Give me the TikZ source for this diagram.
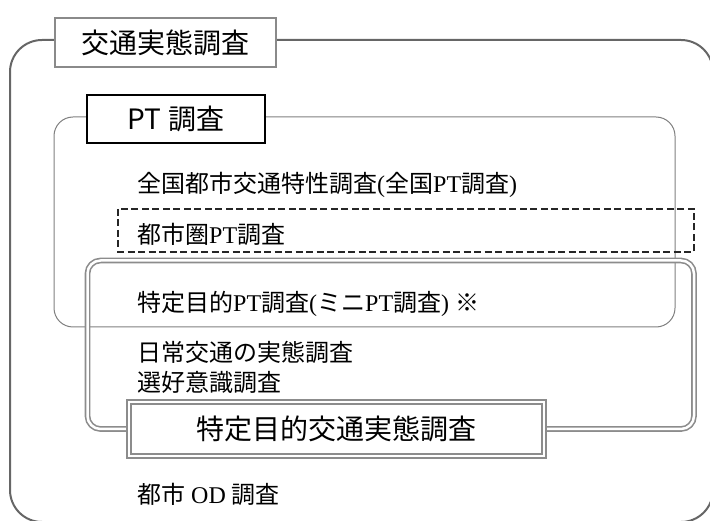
\documentclass[tikz,border=0pt]{standalone}
\usepackage{fontspec}
\setmainfont{Liberation Serif}
\newfontfamily\jpfont{Noto Sans CJK JP}
\newcommand{\jp}[1]{{\jpfont #1}}
\definecolor{framegray}{HTML}{666666}
\definecolor{boxgray}{HTML}{8A8A8A}
\definecolor{linegray}{HTML}{7F7F7F}
\definecolor{doublegray}{HTML}{8C8C8C}

\begin{document}
\begin{tikzpicture}[x=1pt,y=-1pt,
  titlefont/.style={font=\jpfont\fontsize{28}{30}\selectfont},
  titlebox/.style={titlefont,draw=boxgray,line width=2.5pt,fill=white,inner sep=0pt},
  ptbox/.style={titlefont,draw=black,line width=1.2pt,fill=white,inner sep=0pt},
  purposebox/.style={titlefont,draw=doublegray,double=white,double distance=2.5pt,line width=1.6pt,fill=white,inner sep=0pt},
  item/.style={anchor=west,inner sep=0pt,font=\fontsize{24}{26}\selectfont}]
\clip (0,0) rectangle (710,521);
% Outer frame
\draw[framegray,line width=2pt,rounded corners=32pt] (10,40) rectangle (713,522);
% PT frame
\draw[linegray,line width=1pt,rounded corners=19pt] (54,117) rectangle (675,327);
% Dashed box
\draw[black!85,line width=1.3pt,dash pattern=on 7pt off 3.5pt] (118,209) rectangle (694,252);
% Double frame
\draw[doublegray,double=white,double distance=2.5pt,line width=1.6pt,rounded corners=13pt] (87.5,260.5) rectangle (694,429);
% Title boxes
\node[titlebox,minimum width=221pt,minimum height=49pt] (survey) at (165.5,42.5) {交通実態調査};
\node[ptbox,minimum width=178pt,minimum height=48pt] (pt) at (176,119) {PT 調査};
\node[purposebox,minimum width=415pt,minimum height=54pt] (purpose) at (336.5,429) {特定目的交通実態調査};
% Survey items
\foreach \n/\y/\t in {national/185/{\jp{全国都市交通特性調査}(\jp{全国}PT\jp{調査})},
    metro/234/{\jp{都市圏}PT\jp{調査}},
    mini/304/{\jp{特定目的}PT\jp{調査}(\jp{ミニ}PT\jp{調査}) \jp{※}},
    daily/352/{\jp{日常交通の実態調査}},
    preference/382/{\jp{選好意識調査}},
    od/494/{\jp{都市} OD \jp{調査}}} {
    \node[item] (\n) at (137,\y) {\t};
}
\end{tikzpicture}
\end{document}
